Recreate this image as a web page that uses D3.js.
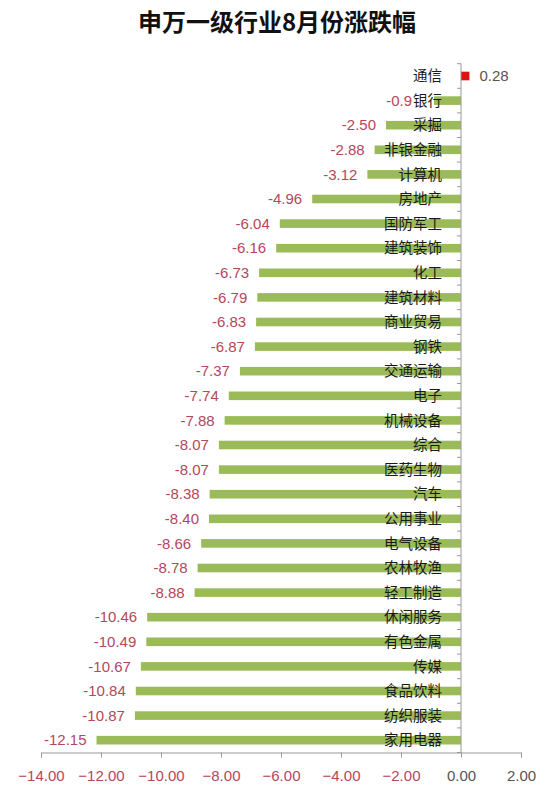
<!DOCTYPE html>
<html><head><meta charset="utf-8">
<script src="https://cdn.jsdelivr.net/npm/d3@7"></script>
<style>body{margin:0;background:#fff}</style>
</head><body>
<svg id="c" width="550" height="799"></svg>
<script>
const title = "申万一级行业8月份涨跌幅";
const categories = ["通信","银行","采掘","非银金融","计算机","房地产","国防军工","建筑装饰","化工","建筑材料","商业贸易","钢铁","交通运输","电子","机械设备","综合","医药生物","汽车","公用事业","电气设备","农林牧渔","轻工制造","休闲服务","有色金属","传媒","食品饮料","纺织服装","家用电器"];
const values = [0.28,-0.9,-2.50,-2.88,-3.12,-4.96,-6.04,-6.16,-6.73,-6.79,-6.83,-6.87,-7.37,-7.74,-7.88,-8.07,-8.07,-8.38,-8.40,-8.66,-8.78,-8.88,-10.46,-10.49,-10.67,-10.84,-10.87,-12.15];
const valueLabels = ["0.28","-0.9","-2.50","-2.88","-3.12","-4.96","-6.04","-6.16","-6.73","-6.79","-6.83","-6.87","-7.37","-7.74","-7.88","-8.07","-8.07","-8.38","-8.40","-8.66","-8.78","-8.88","-10.46","-10.49","-10.67","-10.84","-10.87","-12.15"];
const xTicks = [-14,-12,-10,-8,-6,-4,-2,0,2];

const svg = d3.select("#c");
const red = "#b3475b", green = "#9bbb59", gray = "#555";
const x = d3.scaleLinear().domain([-14,2]).range([41,521]);
const y = d3.scaleBand().domain(categories).range([63.7,752.5]).paddingInner(0.65).paddingOuter(0.325);
const step = y.step();
const labelRight = 442;

svg.append("text").attr("x",277).attr("y",31).attr("text-anchor","middle")
  .attr("font-family","'Noto Sans CJK SC'").attr("font-weight","bold").attr("font-size",24)
  .attr("fill","#111").text(title);

// bars
svg.selectAll("rect.bar").data(categories).enter().append("rect")
  .attr("x",(d,i)=>x(Math.min(0,values[i])))
  .attr("width",(d,i)=>Math.abs(x(values[i])-x(0)))
  .attr("y",d=>y(d)).attr("height",y.bandwidth())
  .attr("fill",(d,i)=>values[i]>=0?"#e01010":green);

// category labels
const catText = svg.selectAll("text.cat").data(categories).enter().append("text")
  .attr("x",labelRight).attr("y",d=>y(d)+y.bandwidth()/2).attr("dy","0.36em")
  .attr("text-anchor","end")
  .attr("font-family","'Noto Sans CJK SC'").attr("font-size",14.5)
  .attr("fill","#1a1a1a").text(d=>d);
const catWidths = [];
catText.each(function(){ catWidths.push(this.getComputedTextLength()); });

// value labels
svg.selectAll("text.val").data(categories).enter().append("text")
  .attr("x",(d,i)=>values[i]>=0? x(values[i])+10 : Math.min(x(values[i])-10, labelRight-catWidths[i]-1))
  .attr("y",d=>y(d)+y.bandwidth()/2).attr("dy","0.35em")
  .attr("text-anchor",(d,i)=>values[i]>=0?"start":"end")
  .attr("font-family","'Liberation Sans',Arial").attr("font-size",15)
  .attr("fill",(d,i)=>values[i]>=0?gray:red)
  .text((d,i)=>valueLabels[i]);

// y axis
const y0 = y.range()[0], y1 = y.range()[1];
svg.append("line").attr("x1",x(0)).attr("x2",x(0)).attr("y1",y0).attr("y2",y1).attr("stroke","#999");
const bounds = categories.map((c,i)=>y0+i*step);
bounds.push(y1);
svg.selectAll("line.yt").data(bounds).enter().append("line")
  .attr("x1",x(0)-4).attr("x2",x(0)).attr("y1",d=>d).attr("y2",d=>d).attr("stroke","#999");

// x axis
const xAxis = d3.axisBottom(x).tickValues(xTicks).tickSize(5).tickFormat(d3.format(".2f"));
const gx = svg.append("g").attr("transform",`translate(0,${y1})`).call(xAxis);
gx.select(".domain").attr("stroke","#999");
gx.selectAll(".tick line").attr("stroke","#999");
gx.selectAll(".tick text").attr("font-family","'Liberation Sans',Arial").attr("font-size",15)
  .attr("y",23).attr("dy","0.35em")
  .attr("fill",d=>d<0?red:gray);
</script>
</body></html>
